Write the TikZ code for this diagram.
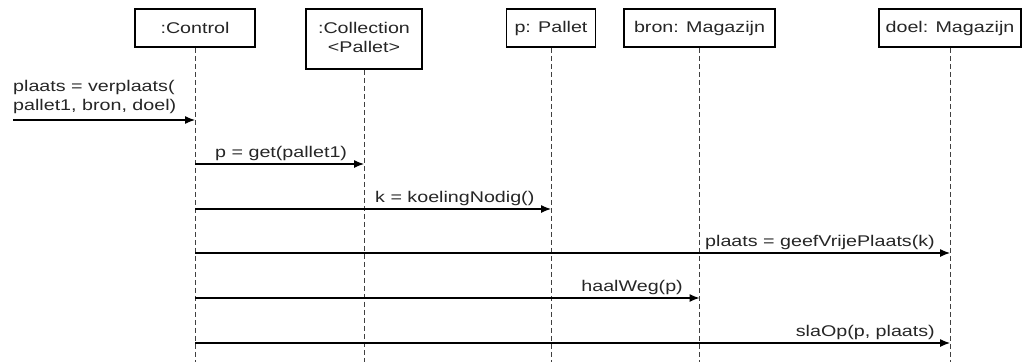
\documentclass[tikz,border=0pt]{standalone}
\usepackage{fontspec}
\setmainfont{Liberation Sans}
\usepackage{graphicx}
\usetikzlibrary{arrows.meta}
\newcommand\xtxt[1]{\scalebox{1.27}[1]{#1}}
\begin{document}
\begin{tikzpicture}[x=1pt,y=-1pt,
  obj/.style={draw=black, line width=1.6pt, fill=white, inner sep=0pt,
    font=\fontsize{15.5}{19.5}\selectfont, text=black!85},
  life/.style={draw=black!75, line width=0.9pt, dash pattern=on 5pt off 3pt},
  msg/.style={draw=black, line width=1.2pt, -{Latex[length=10pt,width=8pt]}},
  lbl/.style={inner sep=0pt, font=\fontsize{15.5}{18.3}\selectfont, text=black!85}]
\useasboundingbox (0,0) rectangle (1022,362);
% objects
\node[obj, minimum width=120pt, minimum height=38pt] (ctrl) at (195,28) {\xtxt{:Control}};
\node[obj, minimum width=116pt, minimum height=60pt] (coll) at (364,39)
  {\xtxt{\begin{tabular}{@{}c@{}}:Collection\\<Pallet>\end{tabular}}};
\node[obj, minimum width=89pt, minimum height=38pt] (pal) at (551,28) {\xtxt{p: Pallet}};
\node[obj, minimum width=151pt, minimum height=38pt] (bron) at (699.5,28) {\xtxt{bron: Magazijn}};
\node[obj, minimum width=142pt, minimum height=38pt] (doel) at (950,28) {\xtxt{doel: Magazijn}};
% lifelines
\coordinate (bot) at (0,362);
\foreach \n in {ctrl,coll,pal,bron,doel}{
  \draw[life] (\n.south) -- (\n.south |- bot);
}
% message levels
\coordinate (start) at (13,120);
\coordinate (y1) at (0,164);
\coordinate (y2) at (0,209);
\coordinate (y3) at (0,253);
\coordinate (y4) at (0,298);
\coordinate (y5) at (0,343);
% messages
\draw[msg] (start) -- (ctrl |- start);
\draw[msg] (ctrl |- y1) -- (coll |- y1);
\draw[msg] (ctrl |- y2) -- (pal |- y2);
\draw[msg] (ctrl |- y3) -- (doel |- y3);
\draw[msg] (ctrl |- y4) -- (bron |- y4);
\draw[msg] (ctrl |- y5) -- (doel |- y5);
% labels
\node[lbl, anchor=base west] (l0) at (13,110)
  {\xtxt{\begin{tabular}[b]{@{}l@{}}plaats = verplaats(\\pallet1, bron, doel)\end{tabular}}};
\node[lbl, anchor=base west] (l1) at (215,157) {\xtxt{p = get(pallet1)}};
\node[lbl, anchor=base west] (l2) at (375,202) {\xtxt{k = koelingNodig()}};
\node[lbl, anchor=base west] (l3) at (705,246) {\xtxt{plaats = geefVrijePlaats(k)}};
\node[lbl, anchor=base east] (l4) at (683,291) {\xtxt{haalWeg(p)}};
\node[lbl, anchor=base east] (l5) at (935,336) {\xtxt{slaOp(p, plaats)}};
\end{tikzpicture}
\end{document}
